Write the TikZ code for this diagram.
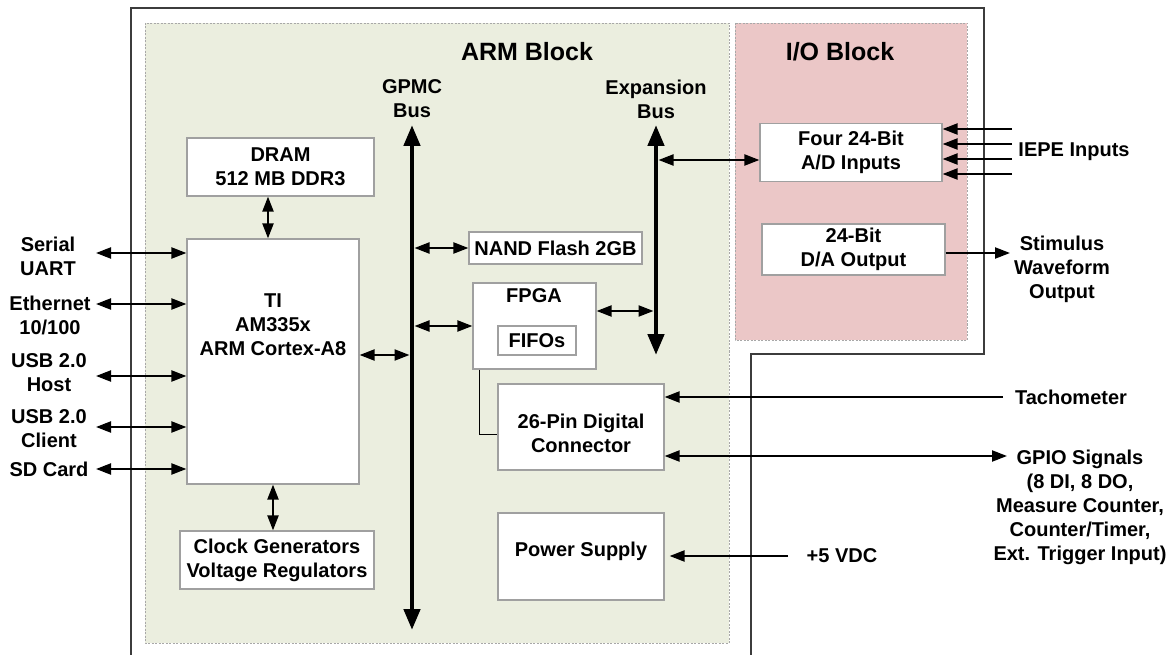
\documentclass[tikz,border=0pt]{standalone}
\usepackage{fontspec}
\setmainfont{Liberation Sans}
\usetikzlibrary{arrows.meta}
\definecolor{armgreen}{HTML}{EBEEDF}
\definecolor{iopink}{HTML}{EBC7C7}
\definecolor{boxgray}{HTML}{A0A0A0}
\definecolor{dashgray}{HTML}{A8A8A8}
\definecolor{outergray}{HTML}{3C3C3C}
\begin{document}
\begin{tikzpicture}[x=1pt,y=-1pt,
 txt/.style={font=\fontsize{20}{24}\selectfont\bfseries, align=center, inner sep=0pt},
 ttl/.style={font=\fontsize{25}{30}\selectfont\bfseries, inner sep=0pt},
 blk/.style={draw=boxgray, line width=1.2pt, fill=white, inner sep=0pt, txt},
 dbl/.style={line width=2.2pt, {Triangle[length=15pt,width=11pt]}-{Triangle[length=15pt,width=11pt]}},
 sgl/.style={line width=2.2pt, -{Triangle[length=15pt,width=11pt]}},
 bus/.style={line width=4.5pt, {Triangle[length=21pt,width=16pt]}-{Triangle[length=21pt,width=16pt]}},
 region/.style={draw=dashgray, line width=0.9pt, dash pattern=on 2pt off 1.5pt}
]
\useasboundingbox[fill=white] (0,0) rectangle (1168,655);

% regions
\draw[region, fill=armgreen] (145,23) rectangle (729,643);
\draw[region, fill=iopink] (735,23) rectangle (967,340);
\draw[outergray, line width=1.5pt] (131,655) -- (131,8) -- (984,8) -- (984,354) -- (751,354) -- (751,655);

\node[ttl] (armttl) at (527,52) {ARM Block};
\node[ttl] (iottl) at (840,52) {I/O Block};

% bus labels and buses
\node[txt] (gpmcl) at (412,99) {GPMC\\Bus};
\node[txt] (expl) at (656,99) {Expansion\\Bus};
\coordinate (gT) at (412,125);
\coordinate (gB) at (412,630);
\coordinate (eT) at (656,125);
\coordinate (eB) at (656,355);
\draw[bus] (gT) -- (gB);
\draw[bus] (eT) -- (eB);

% boxes
\node[blk, minimum width=187pt, minimum height=58pt] (dram) at (280.5,167) {DRAM\\512 MB DDR3};
\node[blk, minimum width=172pt, minimum height=245pt] (ti) at (273,361.5) {};
\node[txt] (tit) at (273,325) {TI\\AM335x\\ARM Cortex-A8};
\node[blk, minimum width=194pt, minimum height=58pt] (clock) at (277,560) {Clock Generators\\Voltage Regulators};
\node[blk, minimum width=173pt, minimum height=32pt] (nand) at (555.5,248) {NAND Flash 2GB};
\node[blk, minimum width=123pt, minimum height=86pt] (fpga) at (534.5,326) {};
\node[txt] (fpgat) at (534,296) {FPGA};
\node[blk, minimum width=78pt, minimum height=29pt] (fifo) at (537,340.5) {FIFOs};
\node[blk, minimum width=166pt, minimum height=86pt] (conn) at (581,427) {};
\node[txt] (connt) at (581,433.5) {26-Pin Digital\\Connector};
\node[blk, minimum width=166pt, minimum height=87pt] (power) at (581,556.5) {};
\node[txt] (powert) at (581,551) {Power Supply};
\node[blk, minimum width=182pt, minimum height=58pt] (ad) at (851,152.5) {Four 24-Bit\\A/D Inputs};
\node[blk, minimum width=183pt, minimum height=51pt] (da) at (853.5,249.5) {24-Bit\\D/A Output};

% left labels
\node[txt] (serl) at (48,256) {Serial\\UART};
\node[txt] (ethl) at (50,315) {Ethernet\\10/100};
\node[txt] (usbhl) at (49,373) {USB 2.0\\Host};
\node[txt] (usbcl) at (49,428.5) {USB 2.0\\Client};
\node[txt] (sdl) at (49,469) {SD Card};

% right labels
\node[txt] (iepel) at (1074,152) {IEPE Inputs};
\node[txt] (stiml) at (1062,269) {Stimulus\\Waveform\\Output};
\node[txt] (tachl) at (1071,397) {Tachometer};
\node[txt] (gpiol) at (1080,507) {GPIO Signals\\(8 DI, 8 DO,\\Measure Counter,\\Counter/Timer,\\Ext. Trigger Input)};
\node[txt] (pwrl) at (842,556) {+5 VDC};

% left connectors
\coordinate (serE) at (96,253);
\coordinate (ethE) at (96,304);
\coordinate (usbhE) at (96,376);
\coordinate (usbcE) at (96,427);
\coordinate (sdE) at (96,469);
\foreach \c in {serE,ethE,usbhE,usbcE,sdE}
  \draw[dbl] (\c) -- (\c -| ti.west);

% DRAM / clock
\coordinate (dramS) at ([xshift=-12.5pt]dram.south);
\draw[dbl] (dramS) -- (dramS |- ti.north);
\draw[dbl] (ti.south) -- (ti.south |- clock.north);

% to GPMC bus
\coordinate (tiE) at ([yshift=6.5pt]ti.east);
\draw[dbl, shorten >=2.5pt] (tiE) -- (tiE -| gT);
\draw[dbl, shorten <=2.5pt] (nand.west -| gT) -- (nand.west);
\draw[dbl, shorten <=2.5pt] (fpga.west -| gT) -- (fpga.west);

% FPGA to expansion bus
\coordinate (fpgaE) at ([yshift=15pt]fpga.east);
\draw[dbl, shorten >=2.5pt] (fpgaE) -- (fpgaE -| eT);
\coordinate (adW) at ([yshift=-7.5pt]ad.west);
\draw[dbl, shorten <=2.5pt] (adW -| eT) -- (adW);

% FPGA to connector
\coordinate (fpgaS) at ([xshift=-55.5pt]fpga.south);
\coordinate (connW) at ([yshift=-7pt]conn.west);
\draw[black, line width=1pt] (fpgaS) |- (connW);

% right connectors
\coordinate (tachE) at (1003,397);
\draw[sgl] (tachE) -- (tachE -| conn.east);
\coordinate (gpioE) at (1007,456);
\draw[dbl] (gpioE -| conn.east) -- (gpioE);
\coordinate (pwrE) at (788,556);
\draw[sgl, shorten >=5pt] (pwrE) -- (pwrE -| power.east);

\coordinate (ie1) at (1012,129);
\coordinate (ie2) at (1012,144);
\coordinate (ie3) at (1012,159);
\coordinate (ie4) at (1012,174);
\foreach \c in {ie1,ie2,ie3,ie4}
  \draw[sgl] (\c) -- (\c -| ad.east);

\coordinate (daE) at ([yshift=-3.5pt]da.east);
\coordinate (stimX) at (1010,0);
\draw[sgl] (daE) -- (daE -| stimX);
\end{tikzpicture}
\end{document}
